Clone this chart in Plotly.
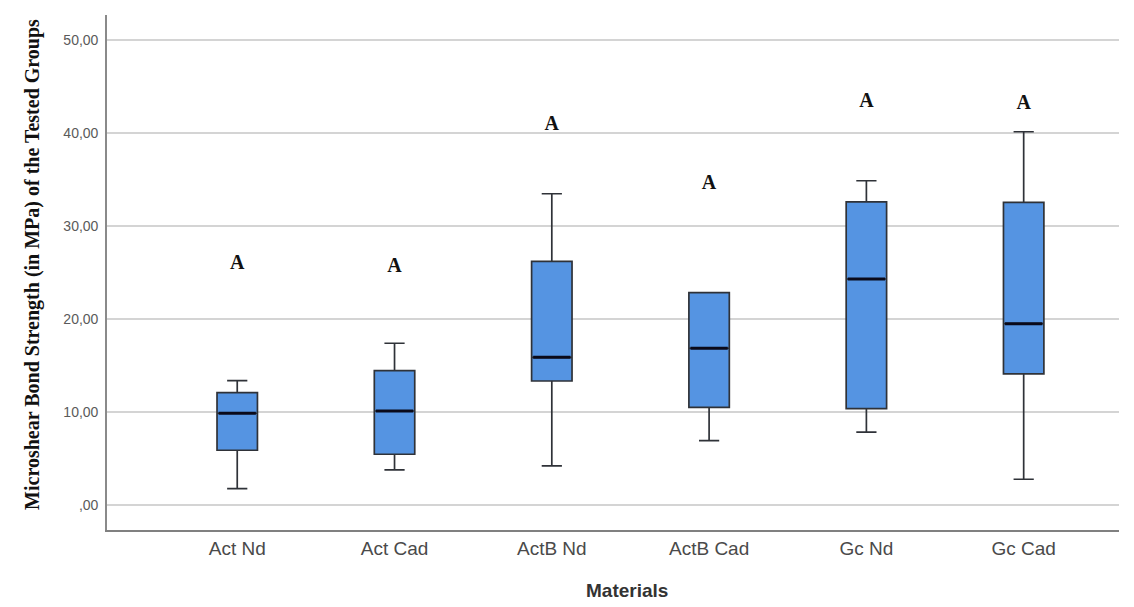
import plotly.graph_objects as go

# ---- data ----
categories = ["Act Nd", "Act Cad", "ActB Nd", "ActB Cad", "Gc Nd", "Gc Cad"]
lower_whisker = [1.75, 3.76, 4.19, 6.92, 7.82, 2.76]
q1_values = [5.88, 5.45, 13.33, 10.50, 10.35, 14.09]
median_values = [9.86, 10.10, 15.88, 16.85, 24.30, 19.50]
q3_values = [12.07, 14.44, 26.20, 22.83, 32.60, 32.55]
upper_whisker = [13.37, 17.39, 33.47, 22.83, 34.87, 40.14]
group_letters = ["A", "A", "A", "A", "A", "A"]
letter_y = [25.9, 25.6, 40.9, 34.5, 43.3, 43.1]
y_tick_values = [0, 10, 20, 30, 40, 50]
y_tick_labels = [",00", "10,00", "20,00", "30,00", "40,00", "50,00"]

positions = list(range(len(categories)))
box_width = 0.257

fig = go.Figure()

fig.add_trace(go.Box(
    x=positions,
    q1=q1_values,
    median=median_values,
    q3=q3_values,
    lowerfence=lower_whisker,
    upperfence=upper_whisker,
    width=box_width,
    whiskerwidth=0.5,
    fillcolor="#5594e2",
    line=dict(color="#2f3238", width=1.7),
    boxpoints=False,
    showlegend=False,
))

# thicker median lines
mx, my = [], []
for p, m in zip(positions, median_values):
    mx += [p - box_width / 2 + 0.01, p + box_width / 2 - 0.01, None]
    my += [m, m, None]
fig.add_trace(go.Scatter(
    x=mx, y=my, mode="lines",
    line=dict(color="#0a0a1a", width=3),
    showlegend=False, hoverinfo="skip",
))

# group letters
fig.add_trace(go.Scatter(
    x=positions, y=letter_y, mode="text",
    text=["<b>" + t + "</b>" for t in group_letters],
    textfont=dict(family="Liberation Serif, Times New Roman, serif", size=20, color="#111111"),
    showlegend=False, hoverinfo="skip",
))

fig.add_annotation(
    text="<b>Microshear Bond Strength (in MPa) of the Tested Groups</b>",
    xref="paper", yref="paper", x=-0.073, y=0.515,
    textangle=-90, showarrow=False,
    font=dict(family="Liberation Serif, Times New Roman, serif", size=20, color="#111111"),
    xanchor="center", yanchor="middle",
)
fig.add_annotation(
    text="<b>Materials</b>",
    xref="paper", yref="paper", x=0.514, y=-0.118,
    showarrow=False,
    font=dict(family="Liberation Sans, Arial, sans-serif", size=19, color="#333333"),
    xanchor="center", yanchor="middle",
)

fig.update_layout(
    width=1126, height=599,
    margin=dict(l=99, r=15, t=7, b=77),
    paper_bgcolor="white",
    plot_bgcolor="white",
    font=dict(family="Liberation Sans, Arial, sans-serif"),
    xaxis=dict(
        range=[-0.828, 5.606],
        tickvals=positions, ticktext=categories,
        showgrid=False, zeroline=False,
        showline=True, linecolor="#808080", linewidth=1.6,
        ticks="", tickfont=dict(size=19, color="#4a4a4a"),
    ),
    yaxis=dict(
        range=[-2.7, 52.7],
        tickvals=y_tick_values, ticktext=y_tick_labels,
        showgrid=True, gridcolor="#d4d4d4", gridwidth=1.5,
        zeroline=False,
        showline=True, linecolor="#8a8a8a", linewidth=1.6,
        ticks="", ticklen=0, ticklabelstandoff=4,
        tickfont=dict(size=14, color="#5a5a5a"),
    ),
)

fig.write_html("out.html")
